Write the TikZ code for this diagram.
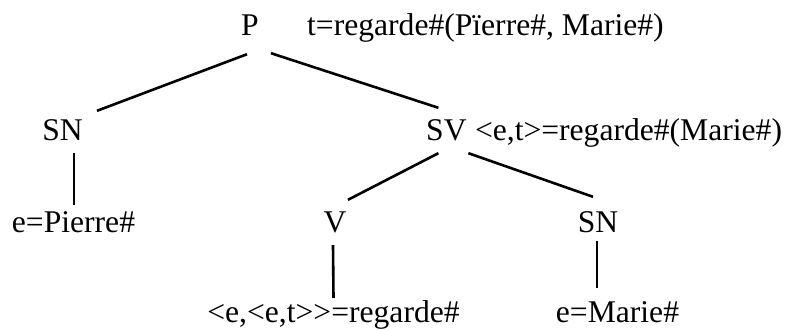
\documentclass[tikz,border=0pt]{standalone}
\usepackage{fontspec}
\setmainfont{Liberation Serif}
\usetikzlibrary{positioning}
\tikzset{
	lbl/.style={inner sep=0pt, text height=21pt, text depth=0pt, anchor=base, font=\fontsize{31.6}{38}\selectfont},
	branch/.style={line width=2.6pt}
}
\begin{document}
\begin{tikzpicture}[x=1pt,y=-1pt]
			\useasboundingbox (0,0) rectangle (787,330);
			\node[lbl] (P) at (250,35) {P};
			\node[lbl, base right=48pt of P] (Pval) {t=regarde\#(Pïerre\#, Marie\#)};
			\node[lbl] (SNa) at (62.5,140) {SN};
			\node[lbl, anchor=base west] (SV) at (426,140) {SV};
			\node[lbl, base right=8pt of SV] (SVval) {<e,t>=regarde\#(Marie\#)};
			\node[lbl] (Pierre) at (73.5,232) {e=Pierre\#};
			\node[lbl] (V) at (335,232) {V};
			\node[lbl] (SNb) at (598,232) {SN};
			\node[lbl] (regarde) at (333.5,322) {<e,<e,t>{}>=regarde\#};
			\node[lbl] (Marie) at (617.5,322) {e=Marie\#};
			\draw[branch] ([xshift=-3pt,yshift=-19pt]P.south) -- ([xshift=34.5pt,yshift=8pt]SNa.north);
			\draw[branch] ([xshift=21pt,yshift=-18pt]P.south) -- ([xshift=-8pt,yshift=11pt]SV.north);
			\draw[branch] ([xshift=11.5pt,yshift=-13pt]SNa.south) -- ([xshift=0.5pt,yshift=6pt]Pierre.north);
			\draw[branch] ([xshift=-8pt,yshift=-13pt]SV.south) -- ([xshift=13pt,yshift=11pt]V.north);
			\draw[branch] ([xshift=22pt,yshift=-13pt]SV.south) -- ([xshift=-5pt,yshift=14pt]SNb.north);
			\draw[branch] ([xshift=-2pt,yshift=-13pt]V.south) -- ([xshift=0pt,yshift=3pt]regarde.north);
			\draw[branch] ([xshift=-1pt,yshift=-9pt]SNb.south) -- ([xshift=-20.5pt,yshift=13pt]Marie.north);
		\end{tikzpicture}
\end{document}
